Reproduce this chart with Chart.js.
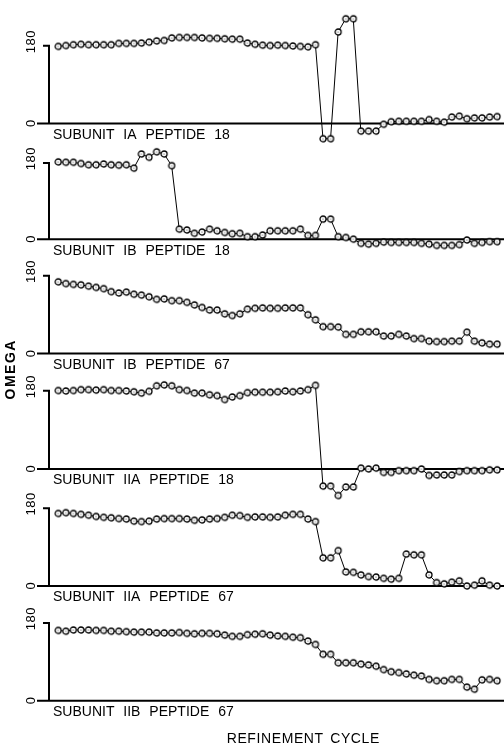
<!DOCTYPE html>
<html><head><meta charset="utf-8">
<script src="https://cdn.jsdelivr.net/npm/chart.js@4/dist/chart.umd.min.js"></script>
<style>html,body{margin:0;padding:0;background:#fff;overflow:hidden}canvas{display:block}</style>
</head><body>
<canvas id="c" width="504" height="746"></canvas>
<script>
// ---- data ----
const cycles = [1,2,3,4,5,6,7,8,9,10,11,12,13,14,15,16,17,18,19,20,21,22,23,24,25,26,27,28,29,30,
  31,32,33,34,35,36,37,38,39,40,41,42,43,44,45,46,47,48,49,50,51,52,53,54,55,56,57,58,59];
const yTicks = [0, 180];
const panelLabels = ["SUBUNIT IA PEPTIDE 18","SUBUNIT IB PEPTIDE 18","SUBUNIT IB PEPTIDE 67",
  "SUBUNIT IIA PEPTIDE 18","SUBUNIT IIA PEPTIDE 67","SUBUNIT IIB PEPTIDE 67"];
const yTitle = "OMEGA";
const xTitle = "REFINEMENT CYCLE";
const omegaIA18 = [181,183,185,186,185,185,185,185,188,188,188,189,191,194,195,201,202,202,202,201,
  200,200,199,198,198,189,186,184,183,184,183,182,181,180,185,-36,-36,215,246,246,
  -18,-18,-18,-2,4,5,5,5,5,9,5,3,15,17,11,13,13,15,16];
const omegaIB18 = [185,184,184,181,178,178,180,178,177,178,170,204,196,209,204,176,24,22,14,17,
  24,20,16,13,14,6,6,10,20,20,20,20,24,9,9,48,48,6,4,0,
  -10,-12,-10,-7,-8,-8,-8,-8,-10,-12,-15,-15,-15,-13,-2,-10,-8,-6,-6];
const omegaIB67 = [168,164,162,161,158,155,152,145,142,144,139,137,133,127,128,124,124,120,114,108,
  102,102,93,89,93,104,106,107,106,106,107,107,107,91,79,63,63,62,45,45,
  51,51,51,41,41,45,41,35,35,29,28,28,29,29,50,29,25,22,22];
const omegaIIA18 = [183,182,183,185,185,184,185,183,183,182,180,177,181,194,196,194,185,183,177,177,
  173,171,162,168,171,178,179,179,179,180,182,180,182,185,195,-40,-40,-62,-42,-42,
  2,0,2,-8,-8,-4,-4,-4,0,-15,-14,-14,-14,-6,-4,-4,-4,-2,-2];
const omegaIIA67 = [170,172,170,168,166,163,161,160,158,157,152,151,152,157,158,158,158,157,154,155,
  157,158,161,166,165,161,162,162,161,162,166,168,168,157,151,66,66,83,33,32,
  26,22,21,18,16,18,75,73,73,26,8,5,9,12,0,2,12,2,0];
const omegaIIB67 = [165,163,166,166,166,165,165,163,163,162,161,161,161,159,159,159,160,158,157,158,
  158,157,154,151,151,155,156,157,154,152,151,149,148,140,132,109,109,89,89,89,
  86,84,81,73,68,66,63,60,58,50,47,47,50,50,32,27,49,50,47];
const series = [omegaIA18, omegaIB18, omegaIB67, omegaIIA18, omegaIIA67, omegaIIB67];

// ---- layout (pixels) ----
const W = 504, H = 746;
const firstPx = 55, lastPx = 501;
const panelPx = [ // [pixel of 180, pixel of 0]
  [43.3,120.7],[161.7,237.7],[275.7,353.3],[392,470],[510.7,588.3],[626.7,704.3]];
const axisX = 49;

const step = (lastPx - firstPx) / (cycles[cycles.length-1] - cycles[0]);
const xMin = cycles[0] - firstPx / step;
const xMax = cycles[cycles.length-1] + (W - lastPx) / step;

function makeMarker(){
  const c = document.createElement('canvas'); c.width = 10; c.height = 10;
  const g = c.getContext('2d');
  g.fillStyle = '#fff'; g.strokeStyle = '#000'; g.lineWidth = 1.3;
  g.beginPath(); g.arc(5,5,3,0,Math.PI*2); g.fill(); g.stroke();
  g.fillStyle = '#333'; g.beginPath(); g.arc(5,5,0.6,0,Math.PI*2); g.fill();
  return c;
}
const marker = makeMarker();

const scales = {
  x: {type:'linear', display:false, min:xMin, max:xMax}
};
panelPx.forEach((p,k)=>{
  const s = (p[1]-p[0]) / 180; // px per degree
  const max = p[1] / s;
  const min = max - H / s;
  scales['y'+k] = {type:'linear', display:false, min:min, max:max};
});

const datasets = series.map((d,k)=>({
  data: d, yAxisID: 'y'+k, xAxisID: 'x',
  borderColor:'#000', borderWidth:1, tension:0, fill:false,
  pointStyle: marker, pointRadius: 3, pointHoverRadius: 3, clip: false
}));

function spacedWidth(ctx, text, ls, ws){
  let w = 0; for (const ch of text){ w += ctx.measureText(ch).width + ls + (ch===' '?ws:0); } return w - ls;
}
function drawSpaced(ctx, text, x, y, ls, ws){
  for (const ch of text){ ctx.fillText(ch, x, y); x += ctx.measureText(ch).width + ls + (ch===' '?ws:0); }
}

const decor = {
  id:'decor',
  beforeDatasetsDraw(chart){
    const ctx = chart.ctx;
    ctx.save();
    ctx.strokeStyle = '#000'; ctx.fillStyle = '#000'; ctx.lineWidth = 2; ctx.lineCap = 'butt';
    series.forEach((d,k)=>{
      const ys = chart.scales['y'+k];
      const yLo = ys.getPixelForValue(yTicks[0]);
      const yHi = ys.getPixelForValue(yTicks[1]);
      ctx.beginPath();
      ctx.moveTo(37, yLo); ctx.lineTo(W, yLo);
      ctx.moveTo(axisX, yLo); ctx.lineTo(axisX, yHi-1); ctx.lineTo(43, yHi-1);
      ctx.stroke();
      // tick labels (rotated)
      ctx.font = '13px "Liberation Sans", Arial, sans-serif';
      ctx.textAlign = 'left'; ctx.textBaseline = 'middle';
      ctx.save(); ctx.translate(31.5, yHi - 5); ctx.rotate(-Math.PI/2);
      const lw = spacedWidth(ctx,String(yTicks[1]),0.5,0);
      drawSpaced(ctx, String(yTicks[1]), -lw/2, 0, 0.5, 0);
      ctx.restore();
      ctx.textAlign = 'center';
      ctx.save(); ctx.translate(31, yLo); ctx.rotate(-Math.PI/2);
      ctx.fillText(String(yTicks[0]), 0, 0);
      ctx.restore();
      // panel label
      ctx.font = '14px "Liberation Sans", Arial, sans-serif';
      ctx.textAlign = 'left'; ctx.textBaseline = 'alphabetic';
      drawSpaced(ctx, panelLabels[k], 53, yLo + 15.5, 0, 5);
    });
    // axis titles
    ctx.font = 'bold 14px "Liberation Sans", Arial, sans-serif';
    ctx.textAlign = 'left'; ctx.textBaseline = 'middle';
    ctx.save(); ctx.translate(11, 370); ctx.rotate(-Math.PI/2);
    const tw = spacedWidth(ctx, yTitle, 1.5, 0);
    drawSpaced(ctx, yTitle, -tw/2, 0, 1.5, 0);
    ctx.restore();
    ctx.font = '14px "Liberation Sans", Arial, sans-serif';
    ctx.textBaseline = 'alphabetic';
    const xw = spacedWidth(ctx, xTitle, 0.6, 2);
    drawSpaced(ctx, xTitle, 303 - xw/2, 743, 0.6, 2);
    ctx.restore();
  }
};

new Chart(document.getElementById('c'), {
  type:'line',
  data:{ labels: cycles, datasets },
  options:{
    responsive:false, animation:false, devicePixelRatio:1, events:[],
    layout:{padding:0},
    plugins:{legend:{display:false}, tooltip:{enabled:false}, title:{display:false}},
    scales
  },
  plugins:[decor]
});
</script>
</body></html>
